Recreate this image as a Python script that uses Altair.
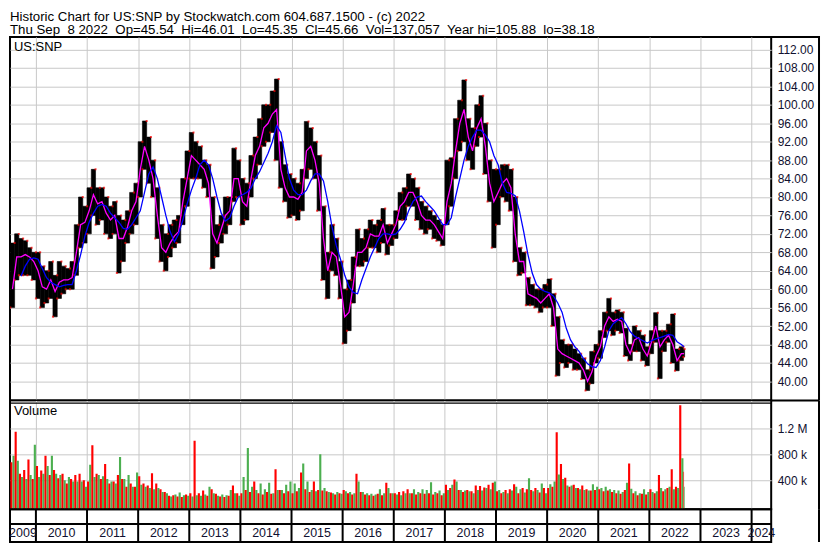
import altair as alt
import pandas as pd

# ---------------- data: monthly values, Jul 2009 .. Sep 2022 ----------------
FIRST_YEAR, FIRST_MONTH = 2009, 7
LAST_TRADE = 2022.69            # Thu Sep 8 2022 as a fractional year
X_DOMAIN = [2009.493, 2024.383]
PRICE_DOMAIN = [35.83, 114.75]
VOL_DOMAIN = [-46, 1631]        # thousands of shares

price_lo = [
    56, 62, 63, 63, 63, 62,
    58, 56, 57, 58, 54, 58, 59, 60, 60, 63, 69, 70,
    72, 76, 74, 75, 72, 71, 72, 63.5, 66, 70, 72, 74,
    80, 86, 83, 80, 71, 66, 64, 67, 69, 70, 74, 78,
    84, 84, 84, 82, 80, 64.5, 67, 70, 72, 74, 79, 80,
    74, 75, 80, 84, 87, 91, 92, 94, 88, 82, 79, 75.5,
    76, 75, 77, 84, 86, 84, 77, 62, 58, 64, 63, 58,
    48.2, 51, 57, 65, 65, 66, 69, 69, 68, 70, 67.5, 69.5,
    71, 75, 75, 78, 78, 75, 73, 72, 73, 71, 70.5, 69.5,
    74, 78, 84, 90, 92, 88, 86, 91, 93, 85, 79, 69,
    74, 80, 79, 77, 66, 63, 63.5, 56.5, 56.5, 56, 55, 56,
    56, 52, 41.2, 44, 43, 44, 42.5, 42.5, 40.5, 38, 39.5, 44,
    45, 49.5, 51, 50, 51, 50.5, 45.5, 44.5, 46.5, 46.5, 44.5, 43.4,
    46, 48.5, 40.6, 46.5, 48.5, 44, 42.3, 44.5, 45.3,
]
price_hi = [
    70, 72, 71, 70.5, 69, 68,
    68, 65, 64, 66, 63, 66, 65, 64.5, 66, 74, 80, 78,
    82, 86, 82, 82, 80, 78, 79, 76, 75, 77, 81, 83,
    92, 96.5, 93, 88, 82, 74, 72, 74, 75, 76, 84, 90,
    94, 92, 91, 88, 87, 80, 74, 76, 80, 80, 90.6, 88,
    84, 83, 89, 93, 97, 100, 100, 103, 105.6, 92, 87, 85,
    84, 83, 86, 96.4, 95, 92, 89, 78, 68, 74, 71, 66,
    60, 62, 67, 73, 71, 73, 75, 74, 75, 77.5, 74, 74,
    77, 81, 82, 85, 84, 82, 79, 78, 77, 76, 75, 74,
    88, 88.5, 97, 101, 105.4, 97, 95, 100, 102, 96, 88, 86,
    86, 87, 87, 86, 80, 69, 68, 62.5, 61, 60, 60, 61,
    62.2, 59, 54, 49, 48, 48, 47, 46, 45, 42.5, 46.5, 48,
    51, 55, 58, 55, 55.5, 55, 51.5, 48, 52, 51, 50, 47.5,
    51, 54.9, 51, 51, 52.4, 54.6, 47, 47.5, 47,
]
ma_fast = [
    60, 67, 67, 67.5, 67, 66,
    64, 60.5, 60, 62, 59.5, 61.5, 62, 62, 62.5, 68, 74, 74.5,
    77, 80.5, 78.5, 79, 76.5, 75, 76, 71, 71, 73.5, 77, 79,
    86, 91, 88, 84, 76, 69, 68, 70, 71.5, 72.5, 79, 84,
    89, 88, 87, 86, 83, 72, 70, 73, 76, 77, 84, 84,
    79, 78, 84, 89, 91, 95, 96, 98, 99, 86, 82, 80,
    80, 79.5, 81, 90, 91, 88, 83, 71, 64, 68, 67, 61,
    54, 55, 61, 68, 68, 69, 72, 71.5, 71.5, 74, 70, 72,
    74, 78, 79, 81, 81, 79, 76, 75, 75, 74, 72.5, 71,
    79, 83, 90, 96, 99, 93, 90, 95, 97, 91, 83, 79,
    81, 83, 84, 82, 72, 66, 66, 59, 58.5, 58, 57, 58,
    59, 56, 47, 46, 45.5, 45, 44.5, 44, 42.5, 40, 42, 45.5,
    47.5, 52, 54, 53, 53.5, 53, 48, 46, 49, 49.5, 47, 45.5,
    48.5, 52, 47.5, 49, 50, 48, 44.5, 46, 46,
]
ma_slow = [
    None, None, 62.8, 65, 66.5, 66.8,
    66.5, 64.5, 62.5, 61.5, 61, 60.5, 60.8, 61, 61, 64, 67.5, 71.5,
    74.5, 76.5, 78, 78.4, 78, 76.5, 75.5, 74.5, 73.2, 73, 74, 75.5,
    77, 81, 85, 86.5, 84, 80, 76, 72.5, 70.3, 72, 75, 78.5,
    81.5, 84, 87, 88, 87, 84, 80, 76.5, 74.8, 75.5, 78, 80,
    80.5, 81, 82, 84, 85.5, 87.5, 89.5, 92, 95.5, 94, 89, 84,
    81.5, 80.5, 80.5, 81.5, 83.5, 85, 85, 83.5, 79, 73.5, 69.5, 66.5,
    63, 60.5, 59.3, 59, 62, 64.5, 67, 69, 71, 72, 72, 71.8,
    72, 73, 74.5, 77, 79, 80, 80.2, 79, 78, 77, 75.5, 74,
    74, 75.5, 80, 84, 88, 91, 93, 94.5, 94.5, 93.5, 92, 89,
    87, 83, 81, 80.8, 80.3, 77, 72.5, 67.5, 63.5, 61, 60, 59.5,
    59.2, 58.5, 57, 55, 51.5, 49, 47.5, 46.5, 45, 43.8, 43.2, 43,
    44.5, 47.5, 51, 52.5, 53.2, 53.8, 52.5, 50.8, 49.8, 49.3, 48.8, 48.3,
    48.8, 49.2, 49.5, 49.8, 50.2, 50, 48.6, 48, 47.5,
]
vol_red = [
    680, 1150, 500, 560, 720, 420,
    620, 550, 780, 480, 560, 430, 500, 350, 420, 480, 500, 400,
    380, 940, 500, 420, 650, 350, 380, 480, 420, 300, 350, 300,
    460, 350, 320, 510, 350, 260, 220, 160, 170, 150, 140, 180,
    200, 1010, 200, 240, 160, 260, 190, 150, 140, 160, 320, 200,
    200, 250, 220, 380, 200, 180, 220, 190, 570, 250, 200, 230,
    200, 230, 520, 260, 220, 380, 250, 240, 230, 210, 180, 200,
    250, 200, 180, 500, 220, 180, 170, 160, 190, 170, 360, 200,
    200, 220, 230, 260, 200, 180, 200, 190, 200, 180, 200, 170,
    330, 280, 410, 250, 220, 250, 230, 320, 310, 290, 330, 360,
    230, 200, 250, 260, 340, 200, 280, 260, 250, 280, 210, 280,
    280, 300, 1140, 650, 440, 300, 330, 280, 320, 260, 240, 250,
    260, 230, 240, 220, 200, 190, 250, 660, 200, 170, 190, 180,
    260, 200, 480, 230, 280, 570, 300, 1560, 530,
]
vol_green = [
    780, 700, 450, 420, 480, 950,
    450, 500, 620, 780, 500, 480, 400, 450, 380, 380, 380, 300,
    640, 450, 480, 460, 420, 380, 350, 760, 420, 480, 300, 520,
    330, 300, 280, 260, 280, 220, 200, 150, 180, 210, 170, 160,
    150, 170, 160, 180, 300, 200, 160, 180, 170, 250, 200, 160,
    450, 900, 300, 250, 350, 260, 360, 200, 250, 250, 330, 380,
    350, 280, 660, 380, 250, 230, 800, 280, 220, 200, 220, 190,
    230, 220, 200, 380, 220, 200, 190, 180, 260, 200, 280, 200,
    180, 170, 200, 200, 260, 220, 260, 250, 370, 220, 240, 200,
    250, 330, 380, 250, 240, 230, 200, 250, 240, 280, 260, 380,
    250, 220, 200, 240, 300, 260, 210, 430, 230, 250, 350, 200,
    340, 380, 490, 420, 320, 320, 280, 260, 250, 240, 340, 300,
    280, 300, 260, 250, 240, 220, 360, 270, 230, 200, 260, 220,
    220, 230, 280, 260, 300, 260, 280, 740, 300,
]
year_list = list(range(2009, 2025))
title_line1 = "Historic Chart for US:SNP by Stockwatch.com 604.687.1500 - (c) 2022"
title_line2 = ("Thu Sep\u00a0 8 2022\u00a0 Op=45.54\u00a0 Hi=46.01\u00a0 Lo=45.35\u00a0 "
               "Cl=45.66\u00a0 Vol=137,057\u00a0 Year hi=105.88\u00a0 lo=38.18")

# ---------------- tables ----------------
price_rows, vol_rows = [], []
for i in range(len(price_lo)):
    k = FIRST_MONTH - 1 + i
    x0 = FIRST_YEAR + k // 12 + (k % 12) / 12
    x1 = min(x0 + 1 / 12, LAST_TRADE)
    xm = (x0 + x1) / 2
    price_rows.append(dict(x0=x0, x1=x1, xm=xm, lo=price_lo[i], hi=price_hi[i],
                           fast=ma_fast[i], slow=ma_slow[i]))
    vol_rows.append(dict(x0=x0, x1=xm, v=vol_red[i], kind="down"))
    vol_rows.append(dict(x0=xm, x1=x1, v=vol_green[i], kind="up"))
price_df = pd.DataFrame(price_rows)
vol_df = pd.DataFrame(vol_rows)
bound_df = pd.DataFrame({"b": year_list[1:]})
label_df = pd.DataFrame({
    "label": [str(y) for y in year_list],
    "lx": [(max(y, X_DOMAIN[0]) + min(y + 1, X_DOMAIN[1])) / 2 for y in year_list],
})
one = pd.DataFrame({"k": [0]})

# ---------------- styling ----------------
W, HP, HV, HS = 764, 365, 109, 33
RB = 812                      # right border of the axis box (px from plot left)
FONT = "Liberation Sans"
LABEL_COLOR = "#101030"
GRID = "#c8c8c8"

xs = alt.Scale(domain=X_DOMAIN, nice=False, zero=False)
x_axis = alt.Axis(values=year_list[1:], grid=True, gridColor=GRID, gridWidth=1,
                  labels=False, ticks=False, domain=False, title=None)
py = alt.Scale(domain=PRICE_DOMAIN, nice=False, zero=False)
p_axis = alt.Axis(orient="right", values=list(range(40, 113, 4)), format=".2f",
                  grid=True, gridColor=GRID, ticks=False, domain=False,
                  labelPadding=6, labelFontSize=12, labelFont=FONT,
                  labelColor=LABEL_COLOR, labelFlush=False, labelOverlap=False,
                  title=None)
vy = alt.Scale(domain=VOL_DOMAIN, nice=False, zero=False)
v_axis = alt.Axis(orient="right", values=[400, 800, 1200],
                  labelExpr="datum.value >= 1000 ? format(datum.value / 1000, '.1f') + ' M' : datum.value + ' k'",
                  grid=True, gridColor=GRID, ticks=False, domain=False,
                  labelPadding=6, labelFontSize=12, labelFont=FONT,
                  labelColor=LABEL_COLOR, labelFlush=False, title=None)


def text_layer(txt, x, y, size):
    return alt.Chart(pd.DataFrame({"t": [txt]})).mark_text(
        align="left", baseline="top", fontSize=size, font=FONT, color="black").encode(
        text="t:N", x=alt.value(x), y=alt.value(y))


def rule(color="black", width=2, **enc):
    return alt.Chart(one).mark_rule(color=color, strokeWidth=width).encode(**enc)


pb = alt.Chart(price_df)
bars = pb.mark_rect(color="black", stroke="black", strokeWidth=0.6, clip=True).encode(
    x=alt.X("x0:Q", scale=xs, axis=x_axis), x2="x1:Q",
    y=alt.Y("lo:Q", scale=py, axis=p_axis), y2="hi:Q")
tick_hi = pb.mark_tick(color="#ff0000", orient="horizontal", size=2, thickness=2, clip=True).encode(
    x=alt.X("x1:Q", scale=xs, axis=x_axis), y=alt.Y("hi:Q", scale=py, axis=p_axis))
tick_lo = pb.mark_tick(color="#ff0000", orient="horizontal", size=2, thickness=2, clip=True).encode(
    x=alt.X("x0:Q", scale=xs, axis=x_axis), y=alt.Y("lo:Q", scale=py, axis=p_axis))
fast_line = pb.mark_line(color="#ff00ff", strokeWidth=1.3, clip=True).encode(
    x=alt.X("xm:Q", scale=xs, axis=x_axis), y=alt.Y("fast:Q", scale=py, axis=p_axis))
slow_line = pb.mark_line(color="#0000ff", strokeWidth=1.3, clip=True).encode(
    x=alt.X("xm:Q", scale=xs, axis=x_axis), y=alt.Y("slow:Q", scale=py, axis=p_axis))
price = alt.layer(
    bars, tick_hi, tick_lo, fast_line, slow_line,
    text_layer("US:SNP", 4, 4, 13),
    text_layer(title_line1, 0, -27, 13.3),
    text_layer(title_line2, 0, -13.5, 13.3),
    rule(x=alt.value(W), x2=alt.value(RB + 1), y=alt.value(0)),
    rule(x=alt.value(W), x2=alt.value(RB), y=alt.value(HP)),
    rule(x=alt.value(RB), y=alt.value(-1), y2=alt.value(HP)),
).properties(width=W, height=HP)

vbars = alt.Chart(vol_df).mark_rect(clip=True).encode(
    x=alt.X("x0:Q", scale=xs, axis=x_axis), x2="x1:Q",
    y=alt.Y("v:Q", scale=vy, axis=v_axis), y2=alt.value(HV),
    color=alt.Color("kind:N", scale=alt.Scale(domain=["down", "up"], range=["#ff0000", "#4caf50"]),
                    legend=None))
vol = alt.layer(
    vbars, text_layer("Volume", 4, 5, 13),
    rule(color="white", width=1, x=alt.value(1), x2=alt.value(W - 1), y=alt.value(1.5)),
    rule(width=1.2, x=alt.value(0), x2=alt.value(W), y=alt.value(2.6)),
    rule(x=alt.value(RB), y=alt.value(0), y2=alt.value(HV)),
).properties(width=W, height=HV)

dividers = alt.Chart(bound_df).mark_rule(color="black", strokeWidth=2).encode(
    x=alt.X("b:Q", scale=xs, axis=None), y=alt.value(0), y2=alt.value(HS))
year_text = alt.Chart(label_df).mark_text(
    fontSize=12.5, font=FONT, color=LABEL_COLOR, baseline="middle", align="center").encode(
    x=alt.X("lx:Q", scale=xs, axis=None), y=alt.value(24), text="label:N")
strip = alt.layer(
    dividers, year_text,
    rule(x=alt.value(0), x2=alt.value(W), y=alt.value(15)),
    rule(x=alt.value(RB), y=alt.value(0), y2=alt.value(HS)),
).properties(width=W, height=HS)

chart = alt.vconcat(price, vol, strip, spacing=0, bounds="flush").properties(
    padding=0, background="white",
).configure_view(stroke="black", strokeWidth=2)

chart.save("out.html", embed_options={"renderer": "svg", "actions": False})
